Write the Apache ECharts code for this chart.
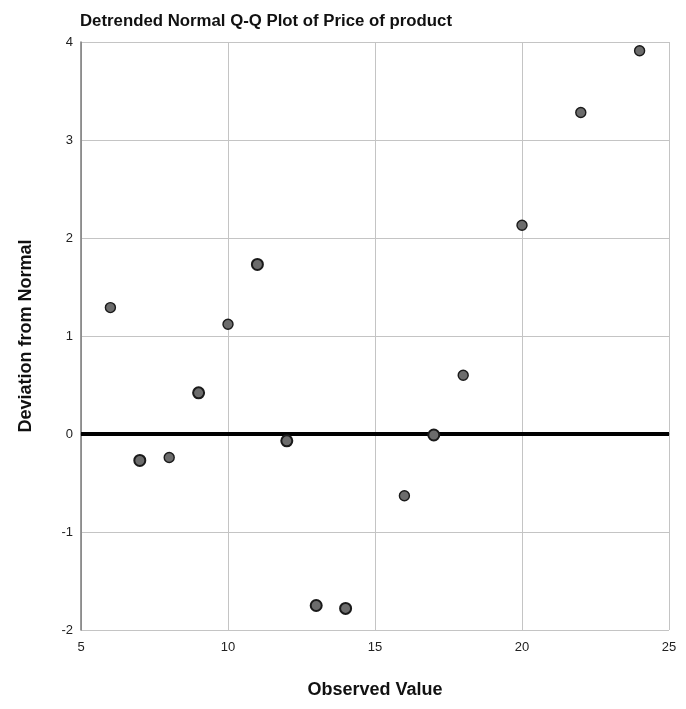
<!DOCTYPE html>
<html><head><meta charset="utf-8">
<script src="https://cdn.jsdelivr.net/npm/echarts@6/dist/echarts.min.js"></script>
<style>html,body{margin:0;padding:0;background:#fff}#c{width:686px;height:709px}</style>
</head><body><div id="c"></div>
<script>
const observed = [6, 7, 8, 9, 10, 11, 12, 13, 14, 16, 17, 18, 20, 22, 24];
const deviation = [1.29, -0.27, -0.24, 0.42, 1.12, 1.73, -0.07, -1.75, -1.78, -0.63, -0.01, 0.60, 2.13, 3.28, 3.91];
const multiplicity = [1, 2, 1, 2, 1, 2, 2, 2, 2, 1, 2, 1, 1, 1, 1];
const xTicks = [5, 10, 15, 20, 25];
const yTicks = [-2, -1, 0, 1, 2, 3, 4];
const refLine = [[5, 0], [25, 0]];

const chart = echarts.init(document.getElementById('c'));
chart.setOption({
  animation: false,
  title: {
    text: 'Detrended Normal Q-Q Plot of Price of product',
    left: 75, top: 8,
    textStyle: {fontFamily: 'Liberation Sans', fontWeight: 'bold', fontSize: 16.8, color: '#111'}
  },
  grid: {left: 81, right: 17, top: 42, bottom: 79},
  xAxis: {
    type: 'value', min: xTicks[0], max: xTicks[xTicks.length - 1], interval: 5,
    name: 'Observed Value', nameLocation: 'middle', nameGap: 51,
    nameTextStyle: {fontFamily: 'Liberation Sans', fontWeight: 'bold', fontSize: 18, color: '#111'},
    axisLine: {lineStyle: {color: '#7a7a7a', width: 1.5}},
    axisTick: {show: false},
    axisLabel: {fontFamily: 'Liberation Sans', fontSize: 13, color: '#222', margin: 11},
    splitLine: {lineStyle: {color: '#c4c4c4', width: 1}}
  },
  yAxis: {
    type: 'value', min: yTicks[0], max: yTicks[yTicks.length - 1], interval: 1,
    name: 'Deviation from Normal', nameLocation: 'middle', nameGap: 46,
    nameTextStyle: {fontFamily: 'Liberation Sans', fontWeight: 'bold', fontSize: 18, color: '#111'},
    axisLine: {show: true, lineStyle: {color: '#7a7a7a', width: 1.5}},
    axisTick: {show: false},
    axisLabel: {fontFamily: 'Liberation Sans', fontSize: 13, color: '#222', margin: 8},
    splitLine: {lineStyle: {color: '#c4c4c4', width: 1}}
  },
  series: [
    {
      type: 'line', data: refLine, symbol: 'none', silent: true,
      lineStyle: {color: '#000', width: 4}, z: 2
    },
    {
      type: 'scatter', z: 3,
      data: observed.map((x, i) => ({
        value: [x, deviation[i]],
        symbolSize: multiplicity[i] > 1 ? 11 : 10,
        itemStyle: {borderWidth: multiplicity[i] > 1 ? 2 : 1.4}
      })),
      itemStyle: {color: '#6c6c6c', borderColor: '#1a1a1a', opacity: 1}
    }
  ]
});
</script></body></html>
